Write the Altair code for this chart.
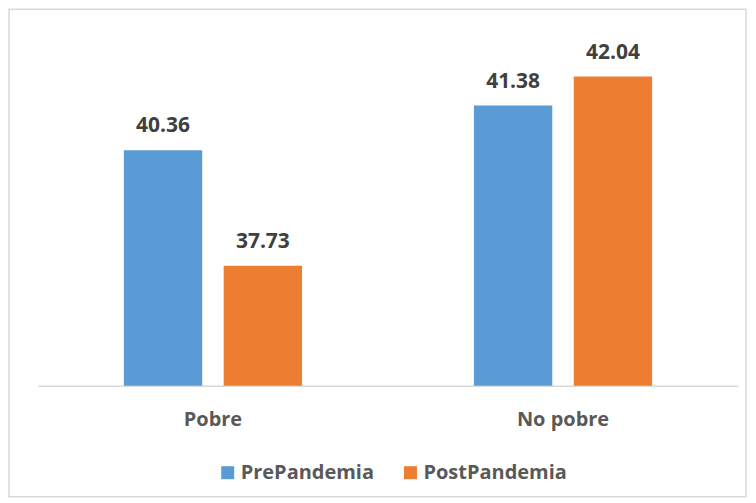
import altair as alt
import pandas as pd

categories = ["Pobre", "Pobre", "No pobre", "No pobre"]
periods = ["PrePandemia", "PostPandemia", "PrePandemia", "PostPandemia"]
values = [40.36, 37.73, 41.38, 42.04]

df = pd.DataFrame({"cat": categories, "periodo": periods, "valor": values})

cat_order = ["Pobre", "No pobre"]
per_order = ["PrePandemia", "PostPandemia"]
colors = ["#5B9BD5", "#ED7D31"]
FONT = "Open Sans"

x_enc = alt.X("cat:N", sort=cat_order, title=None,
              scale=alt.Scale(paddingInner=0.491, paddingOuter=0.2454),
              axis=alt.Axis(labelAngle=0, labelFont=FONT, labelFontSize=20,
                            labelFontWeight="bold", labelColor="#595959",
                            ticks=False, domainColor="#d9d9d9", domainWidth=1.5,
                            labelPadding=24, grid=False))
xo_enc = alt.XOffset("periodo:N", sort=per_order,
                     scale=alt.Scale(paddingInner=0.215, paddingOuter=0))
y_enc = alt.Y("valor:Q", scale=alt.Scale(domain=[35, 43], zero=False, nice=False),
              axis=None)

bars = alt.Chart(df).mark_bar().encode(
    x=x_enc, xOffset=xo_enc, y=y_enc, y2=alt.datum(35),
    color=alt.Color("periodo:N", sort=per_order,
                    scale=alt.Scale(domain=per_order, range=colors),
                    legend=alt.Legend(title=None, orient="none", direction="horizontal",
                                      legendX=180, legendY=429,
                                      symbolType="square", symbolSize=169,
                                      symbolStrokeWidth=0,
                                      labelFont=FONT, labelFontSize=20,
                                      labelFontWeight="bold", labelColor="#595959",
                                      columnPadding=26, labelOffset=3)),
)

labels = alt.Chart(df).mark_text(font=FONT, fontSize=21, fontWeight="bold",
                                 color="#404040", dy=-24, baseline="middle").encode(
    x=alt.X("cat:N", sort=cat_order), xOffset=xo_enc, y=y_enc,
    text=alt.Text("valor:Q", format=".2f"),
)

frame = alt.Chart(pd.DataFrame({"f": [1]})).mark_rect(
    fill=None, stroke="#d9d9d9", strokeWidth=1.5).encode(
    x=alt.value(-29), x2=alt.value(709), y=alt.value(-25), y2=alt.value(463))

chart = alt.layer(frame, bars, labels).properties(
    width=701, height=352,
    autosize=alt.AutoSizeParams(type="none"),
    padding={"left": 30, "top": 26, "right": 10, "bottom": 115},
).configure_view(stroke=None)

chart.save("out.html", embed_options={"renderer": "svg", "actions": False})
